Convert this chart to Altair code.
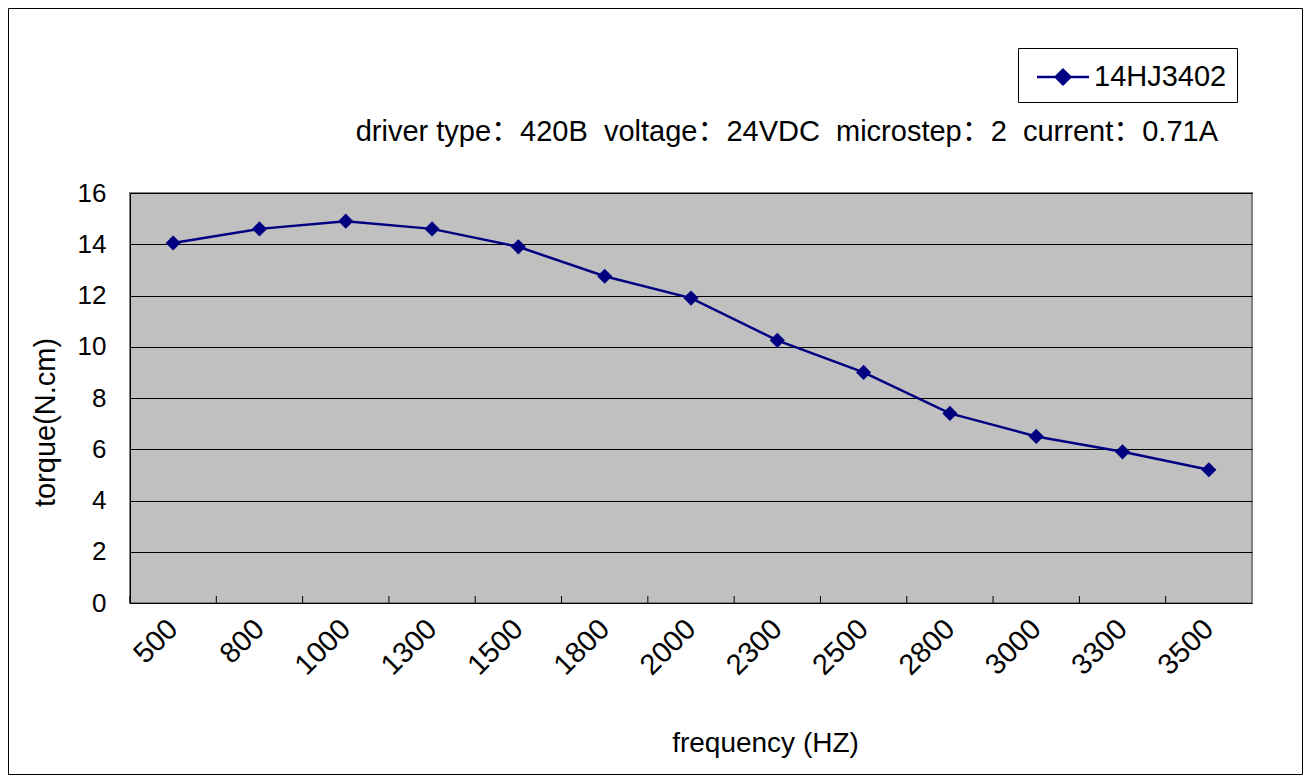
import altair as alt
import pandas as pd

frequencies = ["500", "800", "1000", "1300", "1500", "1800", "2000",
               "2300", "2500", "2800", "3000", "3300", "3500"]
torque = [14.05, 14.6, 14.9, 14.6, 13.9, 12.75, 11.9, 10.25, 9.0, 7.4, 6.5, 5.9, 5.2]
series_name = "14HJ3402"
y_ticks = [0, 2, 4, 6, 8, 10, 12, 14, 16]
NB = "\u00a0"
subtitle = ("driver type\uff1a420B" + NB * 2 + "voltage\uff1a24VDC" + NB * 2 +
            "microstep\uff1a2" + NB * 2 + "current\uff1a0.71A")

df = pd.DataFrame({"freq": frequencies, "torque": torque, "series": [series_name] * len(frequencies)})

FONT = "Liberation Sans, Arial, Noto Sans CJK SC"
NAVY = "#000080"
W, H = 1122, 410
PL, PT, PR, PB = 122, 185, 51, 172

xscale = alt.Scale(paddingInner=0, paddingOuter=0)
yscale = alt.Scale(domain=[0, 16], nice=False)

x_enc = alt.X("freq:N", sort=None, scale=xscale,
              axis=alt.Axis(title="frequency (HZ)", labelAngle=-45, labelAlign="right",
                            labelBaseline="middle", labelPadding=21, ticks=False,
                            labelFontSize=29, labelFont=FONT, labelColor="black",
                            domainColor="black", domainWidth=1, grid=False,
                            titleFontSize=28, titleFont=FONT, titleFontWeight="normal",
                            titleColor="black", titleX=635, titleY=140,
                            titleBaseline="middle", titleAlign="center"))
y_enc = alt.Y("torque:Q", scale=yscale,
              axis=alt.Axis(title="torque(N.cm)", values=y_ticks, ticks=False,
                            labelFontSize=26, labelFont=FONT, labelColor="black",
                            labelPadding=24, domainColor="black", domainWidth=1,
                            grid=True, gridColor="black", gridWidth=1, gridOpacity=1,
                            titleFontSize=29, titleFont=FONT, titleFontWeight="normal",
                            titleColor="black", titleX=-85, titleY=229,
                            titleBaseline="middle", titleAlign="center", titleAngle=270))

base = alt.Chart(df)

line = base.mark_line(color=NAVY, strokeWidth=2.5).encode(x=x_enc, y=y_enc)

points = base.mark_point(shape="diamond", filled=True, size=230, opacity=1).encode(
    x=alt.X("freq:N", sort=None, scale=xscale),
    y=alt.Y("torque:Q", scale=yscale),
    color=alt.Color("series:N", scale=alt.Scale(range=[NAVY]),
                    legend=alt.Legend(title=None, orient="none", legendX=888, legendY=-145,
                                      symbolType="M-1.5,0H1.5M-0.42,0L0,-0.42L0.42,0L0,0.42Z",
                                      symbolSize=1204, symbolStrokeColor=NAVY,
                                      symbolStrokeWidth=2.5, symbolFillColor=NAVY,
                                      symbolOffset=16,
                                      labelFontSize=29, labelFont=FONT, labelColor="black",
                                      labelOffset=12, strokeColor="black", fillColor="white",
                                      padding=10)),
)

inner_ticks = base.mark_rule(color="black", strokeWidth=1).encode(
    x=alt.X("freq:N", sort=None, scale=xscale, bandPosition=0),
    y=alt.value(H),
    y2=alt.value(H - 7),
)

note = alt.Chart(pd.DataFrame({"t": [subtitle]})).mark_text(
    align="right", baseline="alphabetic", fontSize=29, font=FONT, color="black"
).encode(text="t:N", x=alt.value(W - 34), y=alt.value(-52))

frame = alt.Chart(pd.DataFrame({"a": [0]})).mark_rect(
    fill="transparent", stroke="black", strokeWidth=1
).encode(
    x=alt.value(-PL + 0.5), x2=alt.value(W + PR - 0.5),
    y=alt.value(-PT + 0.5), y2=alt.value(H + PB - 0.5),
)

chart = alt.layer(line, inner_ticks, points, note, frame).properties(
    width=W, height=H,
    autosize=alt.AutoSizeParams(type="none"),
    padding={"left": PL, "top": PT, "right": PR, "bottom": PB},
    background="white",
).configure_view(fill="#C0C0C0", stroke="#808080", strokeWidth=2)

chart.save("out.html", embed_options={"renderer": "svg", "actions": False})
